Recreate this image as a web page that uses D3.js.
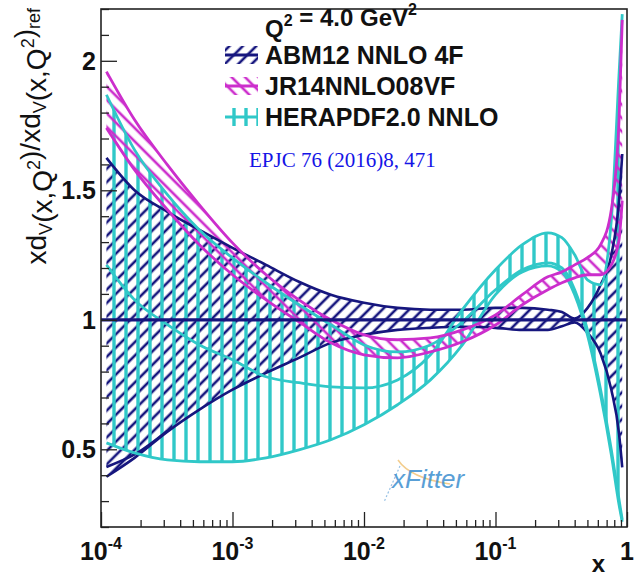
<!DOCTYPE html>
<html><head><meta charset="utf-8">
<script src="https://cdn.jsdelivr.net/npm/d3@7"></script>
<style>body{margin:0;background:#fff} svg{display:block}</style>
</head><body><svg id="c" width="634" height="576"></svg>
<script>
// ---- data ----
const xs     = [1.1e-4, 1.8e-4, 3.2e-4, 5.6e-4, 1e-3, 1.8e-3, 3.2e-3, 5.6e-3, 1e-2, 1.8e-2, 3.2e-2, 5.6e-2, 0.1, 0.16, 0.25, 0.32, 0.4, 0.5, 0.63, 0.76, 0.87, 0.92];
const abmHi  = [1.625, 1.50, 1.417, 1.347, 1.278, 1.212, 1.147, 1.097, 1.066, 1.046, 1.039, 1.039, 1.046, 1.046, 1.039, 1.03, 1.005, 1.045, 1.135, 1.25, 1.46, 1.64];
const abmLo  = [0.394, 0.467, 0.568, 0.653, 0.73, 0.795, 0.853, 0.911, 0.942, 0.961, 0.969, 0.973, 0.969, 0.961, 0.961, 0.975, 0.99, 0.95, 0.87, 0.73, 0.56, 0.43];
const abmLo2 = [0.432, 0.48, 0.572];
const jrHi   = [1.958, 1.772, 1.598, 1.444, 1.297, 1.174, 1.077, 1.0, 0.942, 0.923, 0.93, 0.961, 1.019, 1.097, 1.166, 1.185, 1.212, 1.24, 1.29, 1.425, 1.772, 2.158];
const jrLo   = [1.741, 1.579, 1.425, 1.29, 1.174, 1.077, 0.992, 0.911, 0.865, 0.853, 0.876, 0.915, 0.98, 1.058, 1.116, 1.143, 1.162, 1.174, 1.174, 1.212, 1.309, 1.46];
const heraA  = [1.869, 1.656, 1.483, 1.347, 1.239, 1.143, 1.058, 0.981, 0.903, 0.876, 0.903, 0.992, 1.116, 1.193, 1.22, 1.20, 1.116, 0.961, 0.73, 0.498, 0.305, 0.228];
const heraB  = [1.212, 1.077, 0.981, 0.903, 0.846, 0.78, 0.757, 0.741, 0.737, 0.768, 0.865, 1.039, 1.193, 1.29, 1.336, 1.317, 1.251, 1.154, 1.135, 1.386, 1.95, 2.18];
const heraC  = [0.525, 0.486, 0.459, 0.452, 0.452, 0.467, 0.498, 0.537, 0.595, 0.672, 0.768, 0.903, 1.097, 1.185, 1.208, 1.185, 1.097, 0.942, 0.71, 0.479, 0.286, 0.22];
const refValue = 1;
const yMajor = [0.5, 1, 1.5, 2];
const yLabels = ["0.5", "1", "1.5", "2"];
const xMajor = [1e-4, 1e-3, 1e-2, 1e-1, 1];
const xLabelExp = ["-4", "-3", "-2", "-1", ""];
const legendNames = ["ABM12 NNLO 4F", "JR14NNLO08VF", "HERAPDF2.0 NNLO"];

// ---- layout ----
const NAVY = "#16167e", MAG = "#cc2ecc", CYAN = "#30c8c8";
const L = 101, R = 627, T = 9, B = 527;
const svg = d3.select("#c");
const x = d3.scaleLog().domain([1e-4, 1]).range([L, R]);
const y = d3.scaleLinear().domain([0.2, 2.2]).range([B, T]);

const defs = svg.append("defs");
defs.append("clipPath").attr("id", "clip").append("rect")
  .attr("x", L).attr("y", T).attr("width", R - L).attr("height", B - T);
function hatch(id, color, angle, gap, w) {
  const p = defs.append("pattern").attr("id", id).attr("patternUnits", "userSpaceOnUse")
    .attr("width", gap).attr("height", gap).attr("patternTransform", `rotate(${angle})`);
  p.append("line").attr("x1", gap / 2).attr("x2", gap / 2).attr("y1", -2).attr("y2", gap + 2)
    .attr("stroke", color).attr("stroke-width", w);
}
hatch("pAbm", NAVY, 45, 9.5, 2.6);
hatch("pJr", MAG, -45, 9.5, 2.6);
hatch("pHera", CYAN, 0, 12, 3.4);

const g = svg.append("g").attr("clip-path", "url(#clip)");
const area = (lo, hi) => d3.area().x((d, i) => x(xs[i])).y0((d, i) => y(lo[i])).y1((d, i) => y(hi[i]))
  .curve(d3.curveMonotoneX)(xs);
const line = (arr) => d3.line().x((d, i) => x(xs[i])).y((d, i) => y(arr[i])).curve(d3.curveMonotoneX)(arr);

const heraHi = xs.map((_, i) => Math.max(heraA[i], heraB[i], heraC[i]));
const heraLo = xs.map((_, i) => Math.min(heraA[i], heraB[i], heraC[i]));

g.append("path").attr("d", area(abmLo, abmHi)).attr("fill", "url(#pAbm)");
g.append("path").attr("d", area(heraLo, heraHi)).attr("fill", "url(#pHera)");
g.append("path").attr("d", area(jrLo, jrHi)).attr("fill", "url(#pJr)");

const edge = (arr, c, w) => g.append("path").attr("d", line(arr)).attr("fill", "none")
  .attr("stroke", c).attr("stroke-width", w).attr("stroke-linejoin", "round");
edge(abmHi, NAVY, 2.6); edge(abmLo, NAVY, 2.6); edge(abmLo2, NAVY, 2.6);
edge(heraA, CYAN, 2.8); edge(heraB, CYAN, 2.8); edge(heraC, CYAN, 2.8);
edge(jrHi, MAG, 2.8); edge(jrLo, MAG, 2.8);
g.append("line").attr("x1", x(1e-4)).attr("x2", x(1)).attr("y1", y(refValue)).attr("y2", y(refValue))
  .attr("stroke", NAVY).attr("stroke-width", 3.2);

// ---- axes ----
const xMinor = [];
for (let e = -4; e < 0; e++) for (let k = 2; k <= 9; k++) xMinor.push(k * Math.pow(10, e));
const yMinor = d3.range(2, 23).map(v => v / 10).filter(v => !yMajor.some(m => Math.abs(m - v) < 1e-9));

function styleAxis(sel) { sel.select(".domain").remove(); sel.selectAll("line").attr("stroke", "#222").attr("stroke-width", 1.3); }
svg.append("g").attr("transform", `translate(0,${B})`)
  .call(d3.axisTop(x).tickValues(xMinor).tickSize(7).tickFormat("")).call(styleAxis);
svg.append("g").attr("transform", `translate(0,${B})`)
  .call(d3.axisTop(x).tickValues(xMajor).tickSize(15).tickFormat("")).call(styleAxis);
svg.append("g").attr("transform", `translate(${L},0)`)
  .call(d3.axisRight(y).tickValues(yMinor).tickSize(8).tickFormat("")).call(styleAxis);
svg.append("g").attr("transform", `translate(${L},0)`)
  .call(d3.axisRight(y).tickValues(yMajor).tickSize(16).tickFormat("")).call(styleAxis);

svg.append("rect").attr("x", L).attr("y", T).attr("width", R - L).attr("height", B - T)
  .attr("fill", "none").attr("stroke", "#222").attr("stroke-width", 1.6);

const FONT = "'Liberation Sans', Arial, Helvetica, sans-serif";
// y tick labels
yMajor.forEach((v, i) => {
  svg.append("text").attr("x", L - 5).attr("y", y(v) + 9).attr("text-anchor", "end")
    .attr("font-family", FONT).attr("font-weight", "bold").attr("font-size", 25).attr("fill", "#111").text(yLabels[i]);
});
// x tick labels
xMajor.forEach((v, i) => {
  const t = svg.append("text").attr("x", x(v)).attr("y", 560).attr("text-anchor", "middle")
    .attr("font-family", FONT).attr("font-weight", "bold").attr("font-size", 25).attr("fill", "#111");
  if (xLabelExp[i]) {
    t.append("tspan").text("10");
    t.append("tspan").attr("dy", -11).attr("font-size", 16).text(xLabelExp[i]);
  } else t.text("1");
});
svg.append("text").attr("x", 605).attr("y", 572).attr("text-anchor", "end")
  .attr("font-family", FONT).attr("font-weight", "bold").attr("font-size", 24).attr("fill", "#111").text("x");

// y title
const yt = svg.append("text").attr("transform", "translate(46,8) rotate(-90)").attr("text-anchor", "end")
  .attr("font-family", FONT).attr("font-size", 28).attr("fill", "#111");
function sub(t, s) { t.append("tspan").attr("dy", 6).attr("font-size", 18).text(s); t.append("tspan").attr("dy", -6).text(""); }
function sup(t, s) { t.append("tspan").attr("dy", -12).attr("font-size", 18).text(s); t.append("tspan").attr("dy", 12).text(""); }
yt.append("tspan").text("xd"); sub(yt, "V"); yt.append("tspan").text("(x,Q"); sup(yt, "2");
yt.append("tspan").text(")/xd"); sub(yt, "V"); yt.append("tspan").text("(x,Q"); sup(yt, "2");
yt.append("tspan").text(")"); sub(yt, "ref");

// legend
const q = svg.append("text").attr("x", 265).attr("y", 37).attr("font-family", FONT)
  .attr("font-weight", "bold").attr("font-size", 24).attr("fill", "#111");
function supL(t, s) { t.append("tspan").attr("dy", -11).attr("font-size", 16).text(s); t.append("tspan").attr("dy", 11).text(""); }
q.append("tspan").text("Q"); supL(q, "2"); q.append("tspan").text(" = 4.0 GeV"); supL(q, "2");
const legCols = [NAVY, MAG, CYAN], legPat = ["pAbm", "pJr", "pHera"];
legendNames.forEach((n, i) => {
  const by = 64 + i * 31;
  svg.append("rect").attr("x", 225).attr("y", by - 18).attr("width", 33).attr("height", 18)
    .attr("fill", `url(#${legPat[i]})`);
  svg.append("line").attr("x1", 225).attr("x2", 258).attr("y1", by - 9).attr("y2", by - 9)
    .attr("stroke", legCols[i]).attr("stroke-width", 3);
  svg.append("text").attr("x", 265).attr("y", by).attr("font-family", FONT).attr("font-weight", "bold")
    .attr("font-size", 25).attr("fill", "#111").text(n);
});
svg.append("text").attr("x", 249).attr("y", 167).attr("font-family", "'Liberation Serif', 'Times New Roman', serif")
  .attr("font-size", 21).attr("fill", "#1414e6").text("EPJC 76 (2016)8, 471");

// xFitter logo
const logo = svg.append("g").attr("transform", "translate(390,488)");
logo.append("path").attr("d", "M8,-28 Q20,-10 60,-4").attr("fill", "none").attr("stroke", "#f0c070")
  .attr("stroke-width", 1.5).attr("opacity", 0.8);
logo.append("path").attr("d", "M10,-22 L-6,14").attr("fill", "none").attr("stroke", "#7ab0dd")
  .attr("stroke-width", 1.2).attr("stroke-dasharray", "2,2").attr("opacity", 0.8);
logo.append("text").attr("x", 2).attr("y", 0).attr("font-family", FONT).attr("font-style", "italic")
  .attr("font-size", 26).attr("fill", "#3d8fcf").attr("opacity", 0.85).text("xFitter");
</script></body></html>
